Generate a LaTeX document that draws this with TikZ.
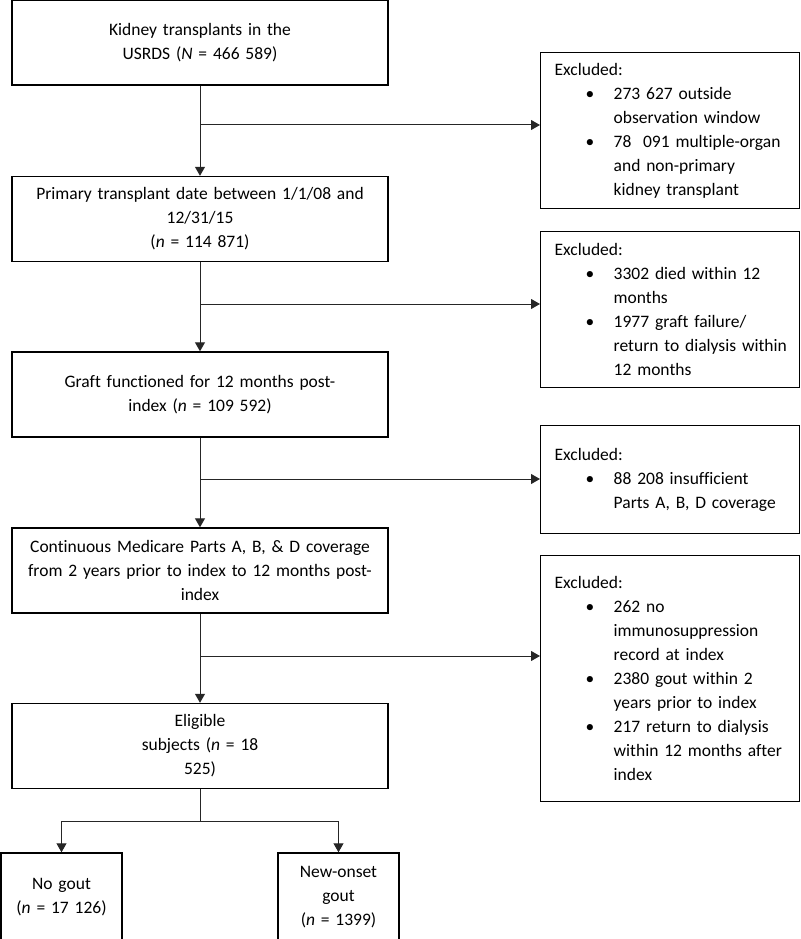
\documentclass[tikz,border=0pt]{standalone}
\usepackage{fontspec}
\setmainfont{Carlito}[Ligatures=NoCommon]
\usetikzlibrary{arrows.meta,
				positioning}

\newcommand{\excl}{\hspace*{7pt}Excluded:}
\newcommand{\bul}[1]{\hspace*{38pt}\makebox[28pt][l]{•}#1}
\newcommand{\cont}[1]{\hspace*{66pt}#1}

\begin{document}
\begin{tikzpicture}[x=1pt, y=-1pt]
\tikzset{every node/.style={font=\fontsize{17.5pt}{24pt}\selectfont}}
\tikzset{mainbox/.style={draw, line width=1.4pt, minimum width=376pt, minimum height=85pt, text width=350pt, align=center, inner sep=0pt}}
\tikzset{leafbox/.style={draw, line width=1.4pt, minimum width=121pt, minimum height=88pt, text width=110pt, align=center, inner sep=0pt}}
\tikzset{exclbox/.style={draw, line width=1.4pt, anchor=north west, minimum width=259pt, text width=245pt, inner xsep=7pt, inner ysep=0pt, align=left}}
\tikzset{link/.style={line width=1pt, black!85}}
\tikzset{flow/.style={link, -{Triangle[length=9pt, width=10pt]}}}

\useasboundingbox (0,0) rectangle (800,939);

\node[mainbox] (usrds) at (200,42.5) {Kidney transplants in the\\USRDS (\textit{N} = 466 589)};
\node[mainbox] (primary) at (200,219) {Primary transplant date between 1/1/08 and\\12/31/15\\(\textit{n} = 114 871)};
\node[mainbox] (graft) at (200,394.5) {Graft functioned for 12 months post-\\index (\textit{n} = 109 592)};
\node[mainbox] (medicare) at (200,570.5) {Continuous Medicare Parts A, B, \& D coverage\\from 2 years prior to index to 12 months post-\\index};
\node[mainbox] (eligible) at (200,746) {Eligible\\subjects (\textit{n} = 18\\525)};

\node[leafbox] (nogout) at (61.5,897) {No gout\\(\textit{n} = 17 126)};
\node[leafbox] (newonset) at (338.5,897) {New-onset\\gout\\(\textit{n} = 1399)};

\node[exclbox, minimum height=156pt] (excl1) at (540,52) {\excl\\
\bul{273 627 outside}\\ \cont{observation window}\\
\bul{78\ \ 091 multiple-organ}\\ \cont{and non-primary}\\ \cont{kidney transplant}};
\node[exclbox, minimum height=156pt] (excl2) at (540,231) {\excl\\
\bul{3302 died within 12}\\ \cont{months}\\
\bul{1977 graft failure/}\\ \cont{return to dialysis within}\\ \cont{12 months}};
\node[exclbox, minimum height=108pt] (excl3) at (540,425) {\excl\\
\bul{88 208 insufficient}\\ \cont{Parts A, B, D coverage}};
\node[exclbox, minimum height=246pt] (excl4) at (540,555) {\excl\\
\bul{262 no}\\ \cont{immunosuppression}\\ \cont{record at index}\\
\bul{2380 gout within 2}\\ \cont{years prior to index}\\
\bul{217 return to dialysis}\\ \cont{within 12 months after}\\ \cont{index}};

\coordinate (br1) at (200,125);
\coordinate (br2) at (200,304);
\coordinate (br3) at (200,479);
\coordinate (br4) at (200,656);
\coordinate (split) at (200,821);

\draw[flow] (usrds) -- (primary);
\draw[flow] (primary) -- (graft);
\draw[flow] (graft) -- (medicare);
\draw[flow] (medicare) -- (eligible);

\draw[flow] (br1) -- (br1 -| excl1.west);
\draw[flow] (br2) -- (br2 -| excl2.west);
\draw[flow] (br3) -- (br3 -| excl3.west);
\draw[flow] (br4) -- (br4 -| excl4.west);

\draw[link] (eligible) -- (split);
\draw[flow] (split) -| (nogout);
\draw[flow] (split) -| (newonset);

\end{tikzpicture}
\end{document}
